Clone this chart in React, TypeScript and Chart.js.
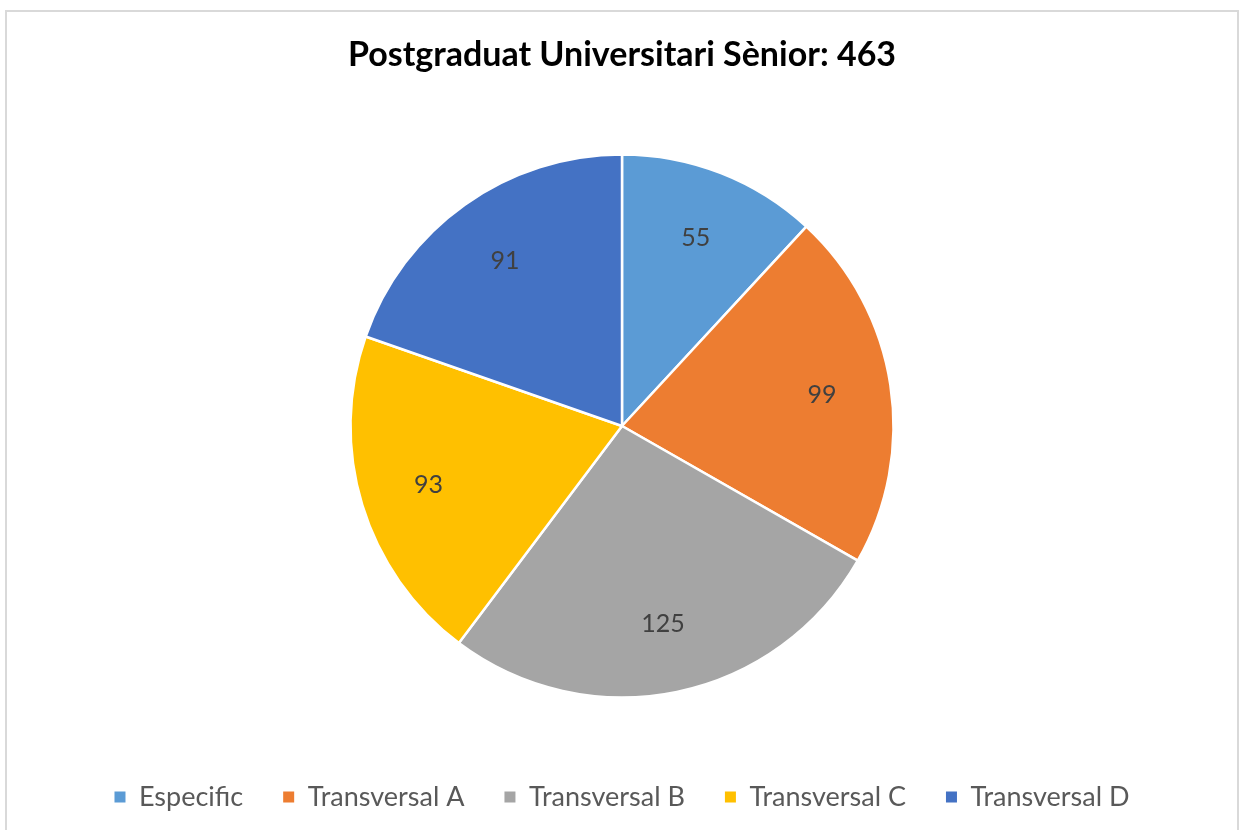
import React, { useEffect, useRef } from "react";
import { Chart, registerables } from "chart.js";
Chart.register(...registerables);

const categories = ["Especific", "Transversal A", "Transversal B", "Transversal C", "Transversal D"];
const values = [55, 99, 125, 93, 91];
const colors = ["#5B9BD5", "#ED7D31", "#A5A5A5", "#FFC000", "#4472C4"];
const titleText = "Postgraduat Universitari Sènior: 463";

const FONT = "Lato, 'Open Sans', sans-serif";

const labelPlugin = {
  id: "sliceLabels",
  afterDatasetsDraw(chart: any) {
    const ctx = chart.ctx;
    const meta = chart.getDatasetMeta(0);
    ctx.save();
    ctx.font = `25px ${FONT}`;
    ctx.fillStyle = "#404040";
    ctx.textAlign = "center";
    ctx.textBaseline = "middle";
    meta.data.forEach((arc: any, i: number) => {
      const { x, y, startAngle, endAngle, outerRadius } = arc.getProps(
        ["x", "y", "startAngle", "endAngle", "outerRadius"],
        true
      );
      const mid = (startAngle + endAngle) / 2;
      const r = outerRadius * 0.745;
      ctx.fillText(String(values[i]), x + Math.cos(mid) * r, y + Math.sin(mid) * r);
    });
    ctx.restore();
  },
};

export default function App() {
  const ref = useRef<HTMLCanvasElement>(null);
  useEffect(() => {
    if (!ref.current) return;
    const chart = new Chart(ref.current, {
      type: "pie",
      data: {
        labels: categories,
        datasets: [
          {
            data: values,
            backgroundColor: colors,
            borderColor: "#ffffff",
            borderWidth: 2.5,
            radius: 271.5,
          } as any,
        ],
      },
      options: {
        responsive: false,
        animation: false,
        layout: { padding: { left: 3, bottom: 49.5 } },
        plugins: {
          title: {
            display: true,
            text: titleText,
            color: "#000000",
            font: { size: 34, weight: "bold", family: FONT },
            padding: { top: 34.6, bottom: 33.1 },
          },
          legend: {
            position: "bottom",
            labels: {
              boxWidth: 11,
              boxHeight: 11,
              padding: 40,
              color: "#595959",
              font: { size: 27, family: FONT },
              generateLabels: (chart: any) => {
                const items = (Chart as any).overrides.pie.plugins.legend.labels.generateLabels(chart);
                return items.map((it: any) => ({ ...it, lineWidth: 0, strokeStyle: "rgba(0,0,0,0)" }));
              },
            },
          },
          tooltip: { enabled: false },
        },
      },
      plugins: [labelPlugin],
    });
    return () => chart.destroy();
  }, []);

  return (
    <div
      style={{
        position: "absolute",
        left: 0,
        top: 0,
        width: 1241,
        height: 830,
        overflow: "hidden",
        background: "#ffffff",
      }}
    >
      <div
        style={{
          position: "absolute",
          left: 5,
          top: 10,
          width: 1234,
          height: 840,
          boxSizing: "border-box",
          border: "2px solid #d9d9d9",
        }}
      />
      <canvas
        ref={ref}
        width={1241}
        height={870}
        style={{ position: "absolute", left: 0, top: 0, width: 1241, height: 870 }}
      />
    </div>
  );
}
